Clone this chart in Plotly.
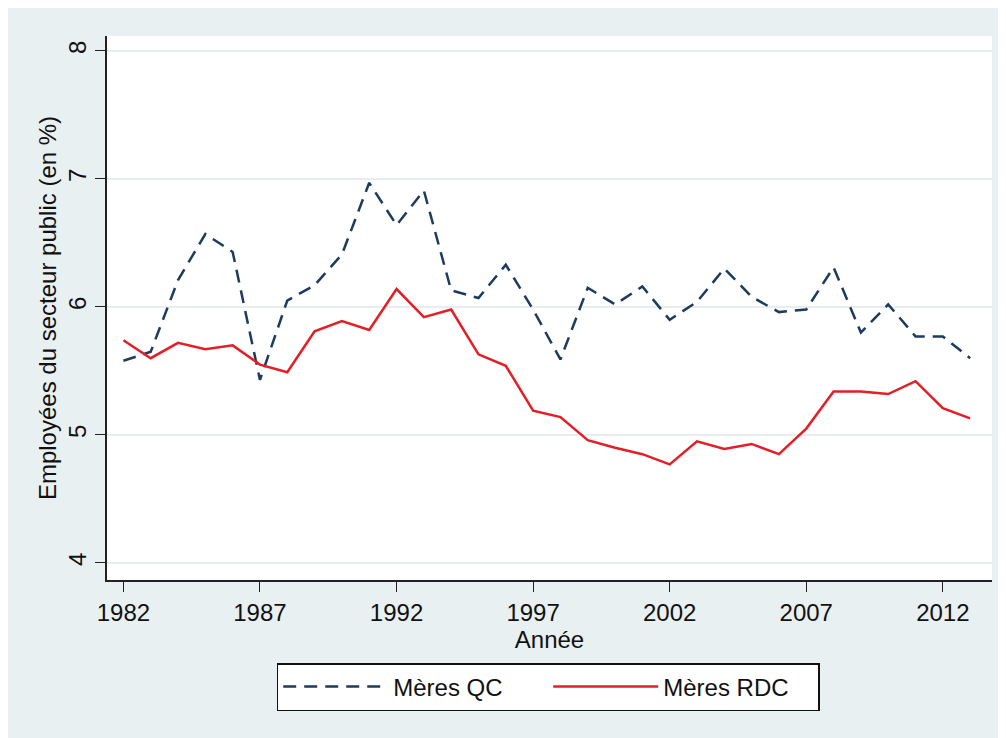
import plotly.graph_objects as go

years = list(range(1982, 2014))
meres_qc = [5.58, 5.65, 6.21, 6.57, 6.43, 5.43, 6.05, 6.17, 6.41, 6.97, 6.64, 6.91,
            6.13, 6.07, 6.33, 5.98, 5.59, 6.15, 6.02, 6.16, 5.90, 6.04, 6.30, 6.08,
            5.96, 5.98, 6.31, 5.80, 6.02, 5.77, 5.77, 5.60]
meres_rdc = [5.74, 5.60, 5.72, 5.67, 5.70, 5.55, 5.49, 5.81, 5.89, 5.82, 6.14, 5.92,
             5.98, 5.63, 5.54, 5.19, 5.14, 4.96, 4.90, 4.85, 4.77, 4.95, 4.89, 4.93,
             4.85, 5.05, 5.34, 5.34, 5.32, 5.42, 5.21, 5.13]
x_ticks = [1982, 1987, 1992, 1997, 2002, 2007, 2012]
y_ticks = [4, 5, 6, 7, 8]

font_family = "Liberation Sans, Arial, sans-serif"

fig = go.Figure()
fig.add_trace(go.Scatter(x=years, y=meres_qc, mode="lines", name="Mères QC",
                         line=dict(color="#1c3b5e", width=2.5, dash="13px,8px")))
fig.add_trace(go.Scatter(x=years, y=meres_rdc, mode="lines", name="Mères RDC",
                         line=dict(color="#e41e26", width=2.5)))

fig.update_layout(
    width=1006, height=738,
    margin=dict(l=99, r=22, t=28, b=166, autoexpand=False),
    paper_bgcolor="#e9f0f2",
    plot_bgcolor="#ffffff",
    font=dict(family=font_family, size=24, color="#111111"),
    showlegend=True,
    legend=dict(orientation="h", x=0.537, xref="container", xanchor="center",
                y=1 - 655 / 738, yref="container", yanchor="top",
                bgcolor="#ffffff", bordercolor="#111111", borderwidth=1.5,
                font=dict(size=24), itemwidth=105, tracegroupgap=0,
                entrywidth=150),
)
fig.update_xaxes(
    range=[1981.4, 2013.8], tickvals=x_ticks, ticks="outside", ticklen=10,
    tickcolor="#222", showline=True, linecolor="#222", linewidth=1.5,
    showgrid=False, zeroline=False, automargin=False,
    title=dict(text="Année", standoff=0, font=dict(size=24)),
    tickfont=dict(size=24),
)
fig.update_yaxes(
    range=[3.867, 8.117], tickvals=y_ticks, ticks="outside", ticklen=10,
    tickcolor="#222", showline=True, linecolor="#222", linewidth=1.5,
    showgrid=True, gridcolor="#e8eef0", gridwidth=1.5, zeroline=False,
    tickangle=-90, automargin=False,
    title=dict(text="Employées du secteur public (en %)", standoff=0, font=dict(size=24)),
    tickfont=dict(size=24),
)

fig.write_html("out.html")
